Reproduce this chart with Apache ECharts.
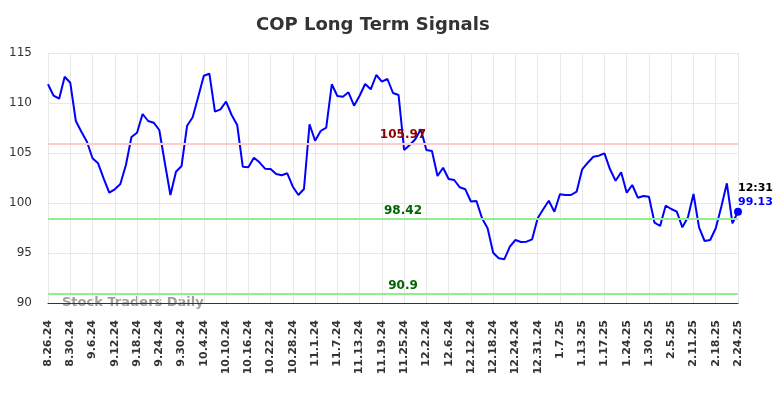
<!DOCTYPE html>
<html>
<head>
<meta charset="utf-8">
<script src="https://cdn.jsdelivr.net/npm/echarts@6/dist/echarts.min.js"></script>
<style>
  html, body { margin: 0; padding: 0; background: #fff; }
  #chart { width: 784px; height: 398px; }
</style>
</head>
<body>
<div id="chart"></div>
<script>
// trading days, 8.26.24 - 2.24.25
var dates = [
  '8.26.24', '8.27.24', '8.28.24', '8.29.24', '8.30.24',
  '9.3.24', '9.4.24', '9.5.24', '9.6.24', '9.9.24', '9.10.24', '9.11.24', '9.12.24', '9.13.24',
  '9.16.24', '9.17.24', '9.18.24', '9.19.24', '9.20.24', '9.23.24', '9.24.24', '9.25.24', '9.26.24', '9.27.24', '9.30.24',
  '10.1.24', '10.2.24', '10.3.24', '10.4.24', '10.7.24', '10.8.24', '10.9.24', '10.10.24', '10.11.24',
  '10.14.24', '10.15.24', '10.16.24', '10.17.24', '10.18.24', '10.21.24', '10.22.24', '10.23.24', '10.24.24', '10.25.24',
  '10.28.24', '10.29.24', '10.30.24', '10.31.24', '11.1.24',
  '11.4.24', '11.5.24', '11.6.24', '11.7.24', '11.8.24', '11.11.24', '11.12.24', '11.13.24', '11.14.24', '11.15.24',
  '11.18.24', '11.19.24', '11.20.24', '11.21.24', '11.22.24', '11.25.24', '11.26.24', '11.27.24', '11.29.24',
  '12.2.24', '12.3.24', '12.4.24', '12.5.24', '12.6.24', '12.9.24', '12.10.24', '12.11.24', '12.12.24', '12.13.24',
  '12.16.24', '12.17.24', '12.18.24', '12.19.24', '12.20.24', '12.23.24', '12.24.24', '12.26.24', '12.27.24',
  '12.30.24', '12.31.24', '1.2.25', '1.3.25', '1.6.25', '1.7.25', '1.8.25', '1.9.25', '1.10.25',
  '1.13.25', '1.14.25', '1.15.25', '1.16.25', '1.17.25', '1.21.25', '1.22.25', '1.23.25', '1.24.25',
  '1.27.25', '1.28.25', '1.29.25', '1.30.25', '1.31.25', '2.3.25', '2.4.25', '2.5.25', '2.6.25', '2.7.25',
  '2.10.25', '2.11.25', '2.12.25', '2.13.25', '2.14.25', '2.18.25', '2.19.25', '2.20.25', '2.21.25', '2.24.25'
]

var prices = [
  111.87, 110.73, 110.43, 112.63, 112.03, 108.2, 107.13, 106.13, 104.47, 103.97,
  102.47, 101.03, 101.37, 101.9, 103.8, 106.6, 107.03, 108.9, 108.2, 108.03,
  107.3, 104.0, 100.8, 103.13, 103.7, 107.73, 108.57, 110.63, 112.73, 112.93,
  109.13, 109.37, 110.13, 108.8, 107.8, 103.63, 103.57, 104.53, 104.07, 103.43,
  103.4, 102.9, 102.77, 102.97, 101.63, 100.8, 101.4, 107.87, 106.23, 107.2,
  107.53, 111.87, 110.7, 110.63, 111.07, 109.73, 110.73, 111.9, 111.37, 112.8,
  112.13, 112.4, 111.0, 110.8, 105.3, 105.8, 106.37, 107.37, 105.3, 105.2,
  102.7, 103.53, 102.4, 102.3, 101.57, 101.37, 100.15, 100.2, 98.47, 97.47,
  95.03, 94.47, 94.37, 95.63, 96.3, 96.1, 96.13, 96.37, 98.47, 99.37,
  100.23, 99.13, 100.87, 100.8, 100.8, 101.13, 103.37, 104.03, 104.63, 104.73,
  104.97, 103.37, 102.23, 103.07, 101.03, 101.8, 100.53, 100.7, 100.63, 98.03,
  97.7, 99.73, 99.4, 99.13, 97.57, 98.57, 100.9, 97.57, 96.2, 96.3,
  97.47, 99.63, 101.97, 97.97, 99.13
]

var resistance = 105.97
var support = [98.42, 90.9]
var lastTime = '12:31'
var lastPrice = 99.13

var chart = echarts.init(document.getElementById('chart'))

var option = {
  animation: false,
  textStyle: { fontFamily: 'DejaVu Sans' },
  title: {
    text: 'COP Long Term Signals',
    left: 256,
    top: 16,
    padding: 0,
    textStyle: { fontSize: 18, fontWeight: 'bold', color: '#333' }
  },
  grid: { left: 48, right: 46, top: 53, bottom: 95 },
  xAxis: {
    type: 'category',
    boundaryGap: false,
    data: dates,
    axisLine: { lineStyle: { color: '#333' } },
    axisTick: { show: false },
    axisLabel: { interval: 3, rotate: 90, fontSize: 11, fontWeight: 'bold', color: '#333', margin: 17 },
    splitLine: { show: true, interval: 3, lineStyle: { color: '#e8e8e8' } }
  },
  yAxis: {
    type: 'value',
    min: 90,
    max: 115,
    interval: 5,
    axisLine: { show: false },
    axisTick: { show: false },
    axisLabel: { fontSize: 12, color: '#333', margin: 16 },
    splitLine: { lineStyle: { color: '#e8e8e8' } }
  },
  graphic: [{
    type: 'text',
    left: 62,
    top: 296,
    silent: true,
    style: { text: 'Stock Traders Daily', fill: '#a0a0a0', font: 'bold 13px "DejaVu Sans"' }
  }],
  series: [{
    type: 'line',
    data: prices,
    showSymbol: false,
    lineStyle: { color: '#0000ff', width: 2 },
    itemStyle: { color: '#0000ff' },
    markLine: {
      silent: true,
      symbol: 'none',
      data: [
        { yAxis: resistance, lineStyle: { color: '#ffcccc', width: 2, type: 'solid' },
          label: { color: '#8b0000' } },
        { yAxis: support[0], lineStyle: { color: '#90ee90', width: 2, type: 'solid' },
          label: { color: '#006400' } },
        { yAxis: support[1], lineStyle: { color: '#90ee90', width: 2, type: 'solid' },
          label: { color: '#006400' } }
      ],
      label: {
        position: 'insideMiddleTop',
        distance: 2,
        fontSize: 12,
        fontWeight: 'bold',
        padding: [0, 0, 0, 20],
        formatter: function (p) { return String(p.value) }
      }
    },
    markPoint: {
      symbol: 'circle',
      symbolSize: 8,
      itemStyle: { color: '#0000ff' },
      data: [{ coord: [dates[dates.length - 1], lastPrice], value: lastPrice }],
      label: {
        show: true,
        position: [4, -27],
        align: 'left',
        formatter: '{t|' + lastTime + '}\n{v|' + lastPrice + '}',
        rich: {
          t: { color: '#000', fontWeight: 'bold', fontSize: 11, lineHeight: 14 },
          v: { color: '#0000ff', fontWeight: 'bold', fontSize: 11, lineHeight: 14 }
        }
      }
    }
  }]
}

chart.setOption(option)
</script>
</body>
</html>
